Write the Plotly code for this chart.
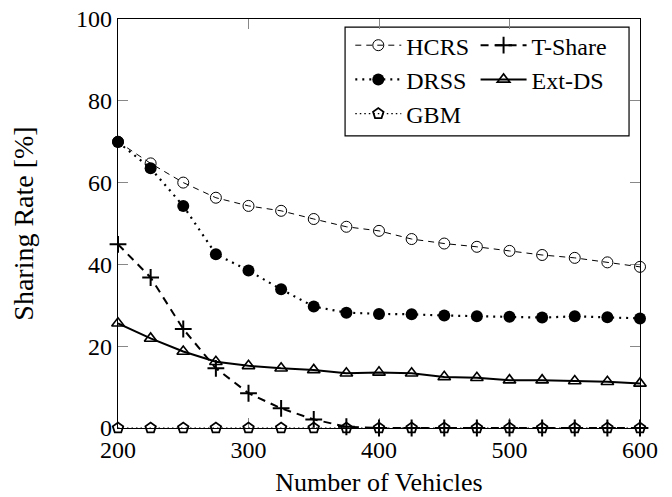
import plotly.graph_objects as go

vehicles = [200, 225, 250, 275, 300, 325, 350, 375, 400, 425, 450, 475, 500, 525, 550, 575, 600]
hcrs = [70.0, 64.7, 60.0, 56.3, 54.3, 53.1, 51.1, 49.2, 48.2, 46.2, 45.1, 44.3, 43.3, 42.3, 41.6, 40.5, 39.4]
tshare = [44.9, 36.8, 24.2, 14.6, 8.5, 4.8, 2.1, 0.3, 0, 0, 0, 0, 0, 0, 0, 0, 0]
drss = [69.9, 63.5, 54.3, 42.5, 38.5, 33.9, 29.7, 28.2, 27.9, 27.8, 27.5, 27.3, 27.2, 27.0, 27.3, 27.1, 26.8]
extds = [25.6, 21.9, 18.7, 16.2, 15.2, 14.6, 14.2, 13.4, 13.6, 13.4, 12.5, 12.3, 11.7, 11.7, 11.5, 11.3, 10.9]
gbm = [0] * 17

x_ticks = [200, 300, 400, 500, 600]
y_ticks = [0, 20, 40, 60, 80, 100]

FONT = "'Liberation Serif', 'Times New Roman', 'DejaVu Serif', serif"
fig = go.Figure()

fig.add_trace(go.Scatter(
    x=vehicles, y=hcrs, name="HCRS", mode="lines+markers", legend="legend", cliponaxis=False,
    line=dict(color="black", width=1, dash="6px,5px"),
    marker=dict(symbol="circle-open", size=11, color="black", line=dict(width=1, color="black"))))
fig.add_trace(go.Scatter(
    x=vehicles, y=tshare, name="T-Share", mode="lines+markers", legend="legend2", cliponaxis=False,
    line=dict(color="black", width=2, dash="8px,6px"),
    marker=dict(symbol="cross-thin", size=12, color="black", line=dict(width=2, color="black"))))
fig.add_trace(go.Scatter(
    x=vehicles, y=drss, name="DRSS", mode="lines+markers", legend="legend", cliponaxis=False,
    line=dict(color="black", width=2.2, dash="2px,5px"),
    marker=dict(symbol="circle", size=12, color="black")))
fig.add_trace(go.Scatter(
    x=vehicles, y=extds, name="Ext-DS", mode="lines+markers", legend="legend2", cliponaxis=False,
    line=dict(color="black", width=2),
    marker=dict(symbol="triangle-up-open", size=11, color="black", line=dict(width=1.6, color="black"))))
fig.add_trace(go.Scatter(
    x=vehicles, y=gbm, name="GBM", mode="lines+markers", legend="legend", cliponaxis=False,
    line=dict(color="black", width=1.2, dash="1.5px,3px"),
    marker=dict(symbol="pentagon-open", size=11, color="black", line=dict(width=1.8, color="black"))))

axis_common = dict(
    showgrid=False, zeroline=False, showline=True, linecolor="black", linewidth=1.2,
    mirror="ticks", ticks="inside", ticklen=10, tickwidth=1, tickcolor="#888888",
    layer="below traces", automargin=False,
    tickfont=dict(family=FONT, size=24, color="black"),
)

fig.update_layout(
    width=672, height=497,
    margin=dict(l=118, r=32, t=19, b=69),
    paper_bgcolor="white", plot_bgcolor="white",
    font=dict(family=FONT, size=24, color="black"),
    xaxis=dict(range=[200, 600], tickvals=x_ticks, ticktext=[str(v) for v in x_ticks],
               title=dict(text="Number of Vehicles", font=dict(family=FONT, size=26), standoff=17),
               **axis_common),
    yaxis=dict(range=[0, 100], tickvals=y_ticks, ticktext=[str(v) for v in y_ticks],
               title=dict(text="Sharing Rate [%]", font=dict(family=FONT, size=28), standoff=34),
               **axis_common),
    legend=dict(x=0.445, y=0.99, xanchor="left", yanchor="top", bgcolor="rgba(0,0,0,0)",
                borderwidth=0, font=dict(family=FONT, size=24), itemwidth=46, tracegroupgap=0),
    legend2=dict(x=0.685, y=0.99, xanchor="left", yanchor="top", bgcolor="rgba(0,0,0,0)",
                 borderwidth=0, font=dict(family=FONT, size=24), itemwidth=46, tracegroupgap=0),
    shapes=[dict(type="rect", xref="paper", yref="paper", x0=0.435, x1=0.979, y0=0.714, y1=0.98,
                 line=dict(color="black", width=1.2), fillcolor="white", layer="below")],
    showlegend=True,
)

fig.write_html("out.html")
